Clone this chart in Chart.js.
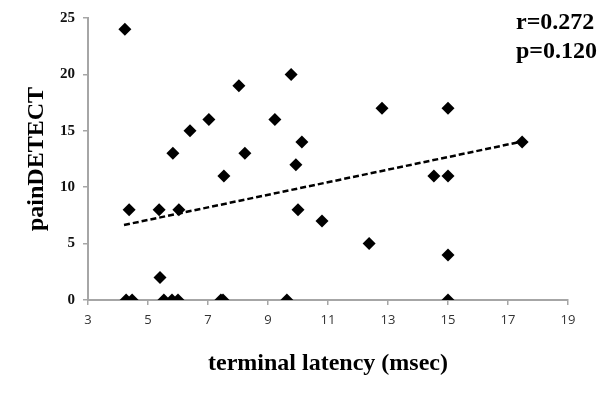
<!DOCTYPE html>
<html>
<head>
<meta charset="utf-8">
<script src="https://cdn.jsdelivr.net/npm/chart.js@4.4.1/dist/chart.umd.min.js"></script>
<style>
  html, body { margin: 0; padding: 0; background: #fff; }
  #wrap { width: 600px; height: 394px; position: relative; }
</style>
</head>
<body>
<div id="wrap"><canvas id="chart-scatter"></canvas></div>
<script>
// terminal latency (msec) vs painDETECT score
const latency = [4.23, 4.37, 4.27, 4.47, 5.37, 5.4, 5.53, 5.83, 5.8, 6.0, 6.03, 6.4, 7.03, 7.53, 7.43, 7.5,
  8.03, 8.23, 9.23, 9.63, 9.77, 9.93, 10.0, 10.13, 10.8, 12.37, 12.8, 14.53, 15.0, 15.0, 15.0, 15.0, 17.47];
const painDetect = [24, 8, 0, 0, 8, 2, 0, 13, 0, 0, 8, 15, 16, 11, 0, 0,
  19, 13, 16, 0, 20, 12, 8, 14, 7, 5, 17, 11, 11, 17, 4, 0, 14];

// dashed trend line ends
const trendX = [4.2, 17.47];
const trendY = [6.65, 14.05];

const xTicks = [3, 5, 7, 9, 11, 13, 15, 17, 19];
const yTicks = [0, 5, 10, 15, 20, 25];
const statsText = ["r=0.272", "p=0.120"];

const axisGrey = "#a6a6a6";
const serif = "'Liberation Serif', 'Times New Roman', serif";

const statsLabel = {
  id: "statsLabel",
  afterDraw(chart) {
    const ctx = chart.ctx;
    ctx.save();
    ctx.fillStyle = "#000";
    ctx.font = "bold 24px " + serif;
    ctx.textAlign = "left";
    ctx.textBaseline = "middle";
    ctx.fillText(statsText[0], 516, 23);
    ctx.fillText(statsText[1], 516, 52);
    ctx.restore();
  }
};

new Chart(document.getElementById("chart-scatter"), {
  type: "scatter",
  data: {
    datasets: [
      {
        data: latency.map((x, i) => ({ x: x, y: painDetect[i] })),
        pointStyle: "rectRot",
        pointRadius: 6.5,
        pointHoverRadius: 6.5,
        backgroundColor: "#000",
        borderColor: "#000",
        borderWidth: 0,
      },
      {
        type: "line",
        data: trendX.map((x, i) => ({ x: x, y: trendY[i] })),
        borderColor: "#000",
        borderWidth: 2.5,
        borderDash: [6, 3],
        pointRadius: 0,
        fill: false,
      },
    ],
  },
  options: {
    responsive: true,
    maintainAspectRatio: false,
    animation: false,
    layout: { padding: { left: 0, right: 32, top: 18, bottom: 0 } },
    plugins: { legend: { display: false }, tooltip: { enabled: false } },
    scales: {
      x: {
        type: "linear",
        min: 3,
        max: 19,
        afterBuildTicks: (s) => { s.ticks = xTicks.map((v) => ({ value: v })); },
        afterFit: (s) => { s.height = 94; },
        grid: { drawOnChartArea: false, color: axisGrey, tickLength: 5, lineWidth: 1.5 },
        border: { color: axisGrey, width: 2 },
        ticks: { color: "#333", font: { family: "'Open Sans', sans-serif", size: 13 }, padding: 7 },
        title: {
          display: true,
          text: "terminal latency (msec)",
          color: "#000",
          font: { family: serif, size: 24, weight: "bold" },
          padding: { top: 0, bottom: 16 },
        },
      },
      y: {
        min: 0,
        max: 25,
        afterBuildTicks: (s) => { s.ticks = yTicks.map((v) => ({ value: v })); },
        afterFit: (s) => { s.width = 88; },
        grid: { drawOnChartArea: false, color: axisGrey, tickLength: 5, lineWidth: 1.5 },
        border: { color: axisGrey, width: 2 },
        ticks: { color: "#111", font: { family: serif, size: 15, weight: "bold" }, padding: 8 },
        title: {
          display: true,
          text: "painDETECT",
          color: "#000",
          font: { family: serif, size: 24, weight: "bold" },
          padding: { top: 22, bottom: 0 },
        },
      },
    },
  },
  plugins: [statsLabel],
});
</script>
</body>
</html>
